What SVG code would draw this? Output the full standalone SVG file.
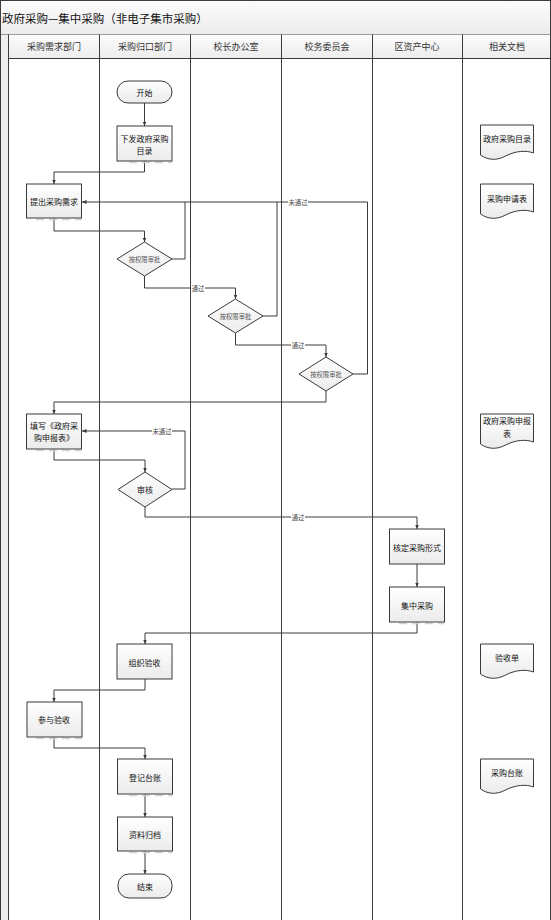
<svg xmlns="http://www.w3.org/2000/svg" width="551" height="920" viewBox="0 0 551 920">
<style>
.lane{stroke:#3c3c3c;stroke-width:1;fill:none}
.box{fill:url(#g);stroke:#3a3a3a;stroke-width:1}
.sh{stroke:#d2d2d2;stroke-width:1.3;stroke-dasharray:8,5;fill:none}
.c{stroke:#3a3a3a;stroke-width:1;fill:none}
.ca{stroke:#3a3a3a;stroke-width:1;fill:none;marker-end:url(#ah)}
text{font-family:"Noto Sans CJK SC","Noto Sans",sans-serif}
.t{font-size:8px;fill:#111;text-anchor:middle;dominant-baseline:central}
.d{font-size:6.3px;fill:#555;text-anchor:middle;dominant-baseline:central}
.l{font-size:6.3px;fill:#444;text-anchor:middle;dominant-baseline:central}
.h{font-size:9px;fill:#333;text-anchor:middle;dominant-baseline:central}
.lb{fill:#fff}
</style>
<defs>
<linearGradient id="g" x1="0" y1="0" x2="0" y2="1"><stop offset="0" stop-color="#ffffff"/><stop offset="1" stop-color="#ebebeb"/></linearGradient>
<linearGradient id="gh" x1="0" y1="0" x2="0" y2="1"><stop offset="0" stop-color="#fcfcfc"/><stop offset="1" stop-color="#ececec"/></linearGradient>
<marker id="ah" markerWidth="5" markerHeight="5" refX="4.5" refY="2.5" orient="auto" markerUnits="userSpaceOnUse"><path d="M0,0.5 L4.5,2.5 L0,4.5 Z" fill="#3a3a3a"/></marker>
<path id="doc" d="M0,0 H53 V28 C45,25 35,26 25,31 C16,36 7,35 0,30 Z"/>
</defs>
<rect x="0" y="0" width="551" height="920" fill="#ffffff"/>
<g id="frame">
<rect x="0.5" y="0.5" width="550" height="34" fill="url(#gh)" stroke="#3c3c3c"/>
<text x="2" y="17.5" style="font-size:11.5px;fill:#111;dominant-baseline:central">政府采购—集中采购（非电子集市采购）</text>
<rect x="1" y="34.5" width="7.5" height="886" fill="#efefef"/>
<rect x="8.5" y="34.5" width="542" height="24" fill="url(#gh)"/>
<line class="lane" x1="0.5" y1="34" x2="0.5" y2="920"/>
<line class="lane" x1="8.5" y1="34.5" x2="8.5" y2="920"/>
<line class="lane" x1="99.5" y1="34.5" x2="99.5" y2="920"/>
<line class="lane" x1="190.5" y1="34.5" x2="190.5" y2="920"/>
<line class="lane" x1="281.5" y1="34.5" x2="281.5" y2="920"/>
<line class="lane" x1="372.5" y1="34.5" x2="372.5" y2="920"/>
<line class="lane" x1="462.5" y1="34.5" x2="462.5" y2="920"/>
<line class="lane" x1="550.5" y1="34.5" x2="550.5" y2="920"/>
<line class="lane" x1="8.5" y1="58.5" x2="551" y2="58.5"/>
<text class="h" x="54" y="46">采购需求部门</text>
<text class="h" x="145" y="46">采购归口部门</text>
<text class="h" x="236" y="46">校长办公室</text>
<text class="h" x="327" y="46">校务委员会</text>
<text class="h" x="417" y="46">区资产中心</text>
<text class="h" x="507" y="46">相关文档</text>
</g>
<g id="connectors">
<path class="ca" d="M144.5,103 V126"/>
<path class="ca" d="M144.5,161 V172 H54 V184"/>
<path class="ca" d="M54,218 V231 H144.5 V242"/>
<path class="c" d="M172,259 H185 V202"/>
<path class="c" d="M263,316 H277 V202"/>
<path class="ca" d="M353,374 H367.5 V202 H82"/>
<path class="ca" d="M144.5,276 V288 H235.5 V299"/>
<path class="ca" d="M235.5,333 V345 H326 V357"/>
<path class="ca" d="M326,391 V402 H54 V414"/>
<path class="ca" d="M54,449 V460 H145 V472"/>
<path class="ca" d="M172,489 H185 V431 H82"/>
<path class="ca" d="M145,507 V517 H417 V529"/>
<path class="ca" d="M417,564 V587"/>
<path class="ca" d="M417,622 V633 H145 V644"/>
<path class="ca" d="M145,679 V690 H54 V702"/>
<path class="ca" d="M54,737 V748 H145 V759"/>
<path class="ca" d="M145,794 V817"/>
<path class="ca" d="M145,851 V874"/>
<rect class="lb" x="288" y="198" width="20" height="8"/><text class="l" x="298" y="202">未通过</text>
<rect class="lb" x="191" y="284" width="14" height="8"/><text class="l" x="198" y="288">通过</text>
<rect class="lb" x="291" y="341" width="14" height="8"/><text class="l" x="298" y="345">通过</text>
<rect class="lb" x="152" y="427" width="20" height="8"/><text class="l" x="162" y="431">未通过</text>
<rect class="lb" x="291" y="513" width="14" height="8"/><text class="l" x="298" y="517">通过</text>
</g>
<g id="n-start"><rect class="box" x="117" y="81" width="55" height="22" rx="11"/><text class="t" x="144.5" y="92">开始</text></g>
<g id="n-xiafa"><line class="sh" x1="129" y1="162.5" x2="172" y2="162.5"/><rect class="box" x="117" y="126" width="55" height="35"/><text class="t" x="144.5" y="138">下发政府采购</text><text class="t" x="144.5" y="150">目录</text></g>
<g id="n-tichu"><line class="sh" x1="36" y1="219.5" x2="82" y2="219.5"/><rect class="box" x="26.5" y="184" width="55" height="34"/><text class="t" x="54" y="201">提出采购需求</text></g>
<g id="n-d1"><polygon class="box" points="144.5,242 172,259 144.5,276 117,259"/><text class="d" x="144.5" y="259">按权限审批</text></g>
<g id="n-d2"><polygon class="box" points="235.5,299 263,316 235.5,333 208,316"/><text class="d" x="235.5" y="316">按权限审批</text></g>
<g id="n-d3"><polygon class="box" points="326,357 353,374 326,391 299,374"/><text class="d" x="326" y="374">按权限审批</text></g>
<g id="n-tianxie"><line class="sh" x1="36" y1="450.5" x2="82" y2="450.5"/><rect class="box" x="26.5" y="414" width="55" height="35"/><text class="t" x="54" y="425">填写《政府采</text><text class="t" x="54" y="437">购申报表》</text></g>
<g id="n-shenhe"><polygon class="box" points="145,472 172,489.5 145,507 118,489.5"/><text class="t" x="145" y="489">审核</text></g>
<g id="n-hegding"><rect class="box" x="389.5" y="529" width="55" height="35"/><text class="t" x="417" y="547">核定采购形式</text></g>
<g id="n-jizhong"><line class="sh" x1="399" y1="623.5" x2="444" y2="623.5"/><rect class="box" x="389.5" y="587" width="55" height="35"/><text class="t" x="417" y="605">集中采购</text></g>
<g id="n-zuzhi"><rect class="box" x="117" y="644" width="55" height="35"/><text class="t" x="144.5" y="662">组织验收</text></g>
<g id="n-canyu"><line class="sh" x1="36" y1="738.5" x2="82" y2="738.5"/><rect class="box" x="27" y="702" width="55" height="35"/><text class="t" x="54" y="719">参与验收</text></g>
<g id="n-dengji"><line class="sh" x1="129" y1="795.5" x2="172" y2="795.5"/><rect class="box" x="117.5" y="759" width="55" height="35"/><text class="t" x="145" y="777">登记台账</text></g>
<g id="n-ziliao"><line class="sh" x1="129" y1="852.5" x2="172" y2="852.5"/><rect class="box" x="117.5" y="817" width="55" height="34"/><text class="t" x="145" y="834">资料归档</text></g>
<g id="n-end"><rect class="box" x="118" y="874" width="54" height="24" rx="11"/><text class="t" x="145" y="886">结束</text></g>
<g id="doc1"><use href="#doc" x="480.5" y="125" class="box"/><text class="t" x="507" y="138">政府采购目录</text></g>
<g id="doc2"><use href="#doc" x="480.5" y="184" class="box"/><text class="t" x="507" y="198">采购申请表</text></g>
<g id="doc3"><use href="#doc" x="480.5" y="414" class="box"/><text class="t" x="507" y="420">政府采购申报</text><text class="t" x="507" y="433">表</text></g>
<g id="doc4"><use href="#doc" x="480.5" y="644" class="box"/><text class="t" x="507" y="657">验收单</text></g>
<g id="doc5"><use href="#doc" x="480.5" y="759" class="box"/><text class="t" x="507" y="772">采购台账</text></g>
</svg>
